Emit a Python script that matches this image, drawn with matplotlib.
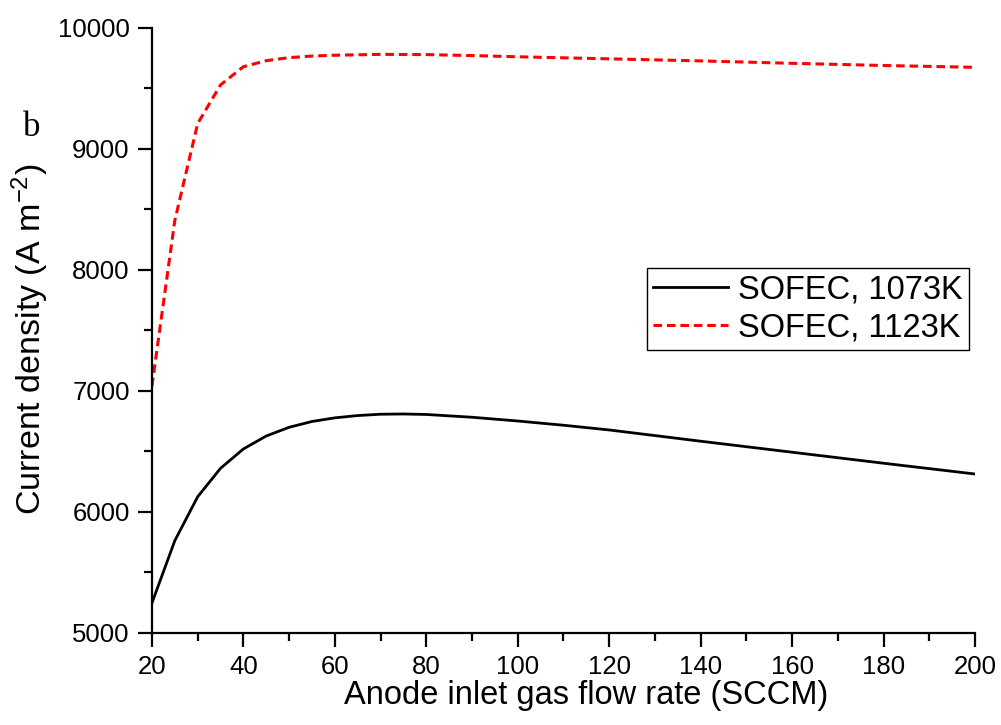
import matplotlib.pyplot as plt
from matplotlib.ticker import MultipleLocator

plt.rcParams['font.family'] = ['Liberation Sans', 'DejaVu Sans']
plt.rcParams['mathtext.default'] = 'regular'

# 1073K 곡선
flow_1073 = [20, 25, 30, 35, 40, 45, 50, 55, 60, 65, 70, 75, 80, 90, 100,
             110, 120, 140, 160, 180, 200]
cd_1073 = [5248, 5763, 6126, 6361, 6521, 6628, 6700, 6748, 6778, 6797, 6808,
           6810, 6806, 6783, 6752, 6717, 6678, 6585, 6494, 6403, 6314]

# 1123K 곡선
flow_1123 = [20, 25, 30, 35, 40, 45, 50, 55, 60, 70, 80, 90, 100, 120, 140,
             160, 180, 200]
cd_1123 = [7040, 8410, 9210, 9530, 9680, 9730, 9755, 9768, 9775, 9782, 9780,
           9772, 9762, 9745, 9728, 9708, 9690, 9675]

fig = plt.figure(figsize=(10.01, 7.25), dpi=100)
ax = fig.add_axes([0.1518, 0.1269, 0.8222, 0.8345])

ax.plot(flow_1073, cd_1073, color='black', lw=2.0, label='SOFEC, 1073K')
ax.plot(flow_1123, cd_1123, color='red', lw=2.2, dashes=(2.8, 1.6),
        label='SOFEC, 1123K')

ax.set_xlim(20, 200)
ax.set_ylim(5000, 10000)
ax.xaxis.set_major_locator(MultipleLocator(20))
ax.xaxis.set_minor_locator(MultipleLocator(10))
ax.yaxis.set_major_locator(MultipleLocator(1000))
ax.yaxis.set_minor_locator(MultipleLocator(500))

for s in ['top', 'right']:
    ax.spines[s].set_visible(False)
for s in ['left', 'bottom']:
    ax.spines[s].set_linewidth(1.6)

ax.tick_params(which='major', direction='out', length=10, width=1.6,
               labelsize=18.5, pad=6)
ax.tick_params(which='minor', direction='out', length=6, width=1.6)

ax.set_xlabel('Anode inlet gas flow rate (SCCM)', fontsize=23.5)
ax.set_ylabel(r'Current density (A m$^{-2}$)', fontsize=24.5)
ax.xaxis.set_label_coords(0.528, -0.077)
ax.yaxis.set_label_coords(-0.123, 0.486)

ax.text(-0.157, 0.835, 'b', transform=ax.transAxes, fontsize=25,
        family='Liberation Serif', ha='left', va='center')

leg = ax.legend(loc='upper right', bbox_to_anchor=(0.993, 0.603),
                fontsize=23.5, frameon=True, fancybox=False, framealpha=1,
                edgecolor='black', handlelength=2.3, handletextpad=0.3,
                borderpad=0.2, labelspacing=0.22, borderaxespad=0)
leg.get_frame().set_linewidth(1.0)

fig.savefig('out.png', dpi=100)
